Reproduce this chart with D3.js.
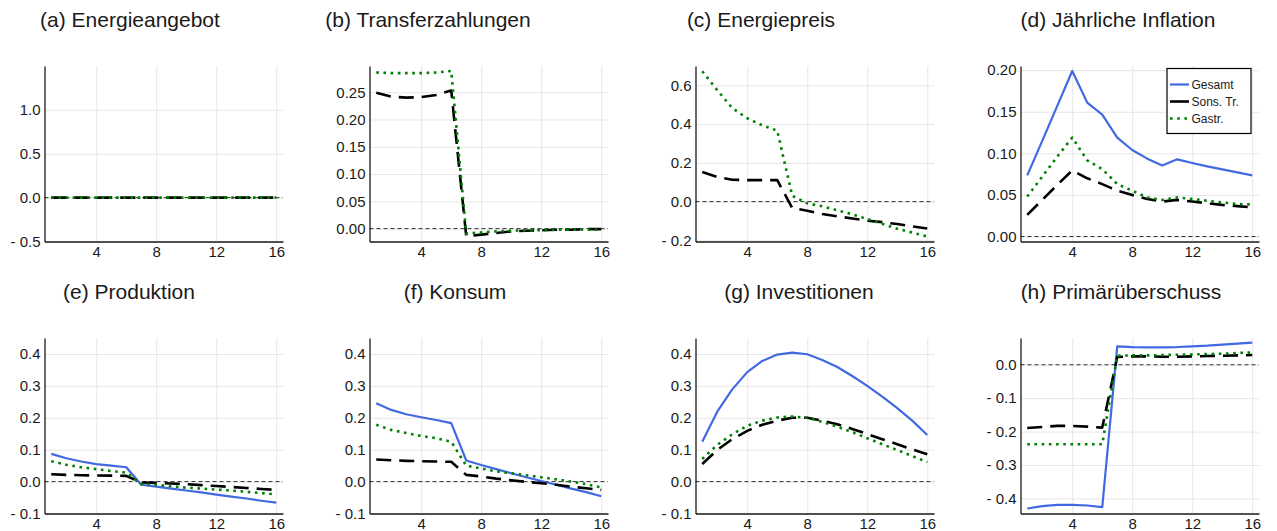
<!DOCTYPE html>
<html>
<head>
<meta charset="utf-8">
<script src="https://cdn.jsdelivr.net/npm/d3@7/dist/d3.min.js"></script>
<style>
  html, body { margin: 0; padding: 0; background: #fff; }
  svg { display: block; }
  text { font-family: "Liberation Sans", Arial, Helvetica, sans-serif; fill: #1a1a1a; }
</style>
</head>
<body>
<svg id="chart" width="1277" height="531"></svg>
<script>
// ---------------- DATA ----------------
const periods = [1,2,3,4,5,6,7,8,9,10,11,12,13,14,15,16];
const seriesNames = ["Gesamt", "Sons. Tr.", "Gastr."];
const panelTitles = ["(a) Energieangebot", "(b) Transferzahlungen", "(c) Energiepreis", "(d) Jährliche Inflation",
                     "(e) Produktion", "(f) Konsum", "(g) Investitionen", "(h) Primärüberschuss"];
const xTicks = [4, 8, 12, 16];

// (a) Energieangebot
const energieangebotSonsTr = [0,0,0,0,0,0,0,0,0,0,0,0,0,0,0,0];
const energieangebotGastr  = [0,0,0,0,0,0,0,0,0,0,0,0,0,0,0,0];
// (b) Transferzahlungen
const transferSonsTr = [0.249,0.242,0.240,0.241,0.245,0.253,-0.014,-0.011,-0.008,-0.005,-0.004,-0.003,-0.002,-0.002,-0.001,-0.001];
const transferGastr  = [0.286,0.285,0.285,0.285,0.286,0.289,-0.009,-0.007,-0.005,-0.004,-0.003,-0.003,-0.002,-0.002,-0.002,-0.002];
// (c) Energiepreis
const energiepreisSonsTr = [0.153,0.127,0.113,0.111,0.111,0.111,-0.033,-0.047,-0.064,-0.076,-0.087,-0.099,-0.106,-0.116,-0.128,-0.139];
const energiepreisGastr  = [0.673,0.575,0.483,0.430,0.394,0.366,0.030,-0.009,-0.024,-0.045,-0.065,-0.090,-0.115,-0.140,-0.160,-0.180];
// (d) Jährliche Inflation
const inflationGesamt = [0.0735,0.115,0.157,0.199,0.161,0.1466,0.119,0.104,0.0936,0.0855,0.0928,0.0884,0.0843,0.0807,0.0771,0.0735];
const inflationSonsTr = [0.026,0.044,0.062,0.0795,0.070,0.063,0.055,0.050,0.045,0.042,0.044,0.042,0.040,0.038,0.0365,0.035];
const inflationGastr  = [0.048,0.072,0.096,0.119,0.0916,0.081,0.063,0.055,0.047,0.044,0.047,0.045,0.043,0.041,0.039,0.0385];
// (e) Produktion
const produktionGesamt = [0.0867,0.073,0.063,0.055,0.050,0.045,-0.010,-0.016,-0.022,-0.028,-0.034,-0.041,-0.047,-0.053,-0.060,-0.066];
const produktionSonsTr = [0.023,0.021,0.020,0.019,0.0188,0.018,-0.003,-0.004,-0.006,-0.008,-0.011,-0.014,-0.017,-0.020,-0.023,-0.026];
const produktionGastr  = [0.064,0.053,0.045,0.039,0.033,0.028,-0.008,-0.010,-0.015,-0.019,-0.022,-0.025,-0.028,-0.032,-0.036,-0.040];
// (f) Konsum
const konsumGesamt = [0.2456,0.2247,0.211,0.2017,0.193,0.183,0.066,0.052,0.039,0.026,0.0136,0.002,-0.010,-0.022,-0.033,-0.046];
const konsumSonsTr = [0.069,0.067,0.065,0.064,0.063,0.062,0.021,0.016,0.0094,0.004,-0.001,-0.005,-0.010,-0.016,-0.021,-0.026];
const konsumGastr  = [0.178,0.162,0.152,0.143,0.136,0.125,0.050,0.041,0.032,0.026,0.020,0.0136,0.007,0.0,-0.008,-0.018];
// (g) Investitionen
const investGesamt = [0.125,0.219,0.289,0.343,0.378,0.398,0.404,0.399,0.381,0.359,0.331,0.300,0.266,0.230,0.191,0.146];
const investSonsTr = [0.055,0.099,0.133,0.159,0.178,0.191,0.200,0.200,0.191,0.180,0.165,0.149,0.133,0.117,0.101,0.086];
const investGastr  = [0.071,0.115,0.148,0.175,0.191,0.201,0.204,0.200,0.187,0.172,0.155,0.136,0.117,0.099,0.080,0.061];
// (h) Primärüberschuss
const primGesamt = [-0.430,-0.423,-0.419,-0.419,-0.421,-0.426,0.0547,0.0527,0.052,0.052,0.053,0.055,0.057,0.060,0.063,0.066];
const primSonsTr = [-0.189,-0.186,-0.183,-0.183,-0.185,-0.188,0.023,0.025,0.025,0.024,0.024,0.025,0.026,0.027,0.028,0.029];
const primGastr  = [-0.238,-0.238,-0.238,-0.238,-0.238,-0.238,0.027,0.028,0.028,0.029,0.030,0.031,0.032,0.033,0.035,0.037];

// y tick values per panel
const yTicksA = [-0.5, 0.0, 0.5, 1.0];
const yTicksB = [0.00, 0.05, 0.10, 0.15, 0.20, 0.25];
const yTicksC = [-0.2, 0.0, 0.2, 0.4, 0.6];
const yTicksD = [0.00, 0.05, 0.10, 0.15, 0.20];
const yTicksEFG = [-0.1, 0.0, 0.1, 0.2, 0.3, 0.4];
const yTicksH = [-0.4, -0.3, -0.2, -0.1, 0.0];

// ---------------- PANELS ----------------
const panels = [
  {title: panelTitles[0], col:0, row:0, series:[null, energieangebotSonsTr, energieangebotGastr], yDom:[-0.5,1.5], ticks:yTicksA, dec:1},
  {title: panelTitles[1], col:1, row:0, series:[null, transferSonsTr, transferGastr], yDom:[-0.0236,0.298], ticks:yTicksB, dec:2},
  {title: panelTitles[2], col:2, row:0, series:[null, energiepreisSonsTr, energiepreisGastr], yDom:[-0.206,0.70], ticks:yTicksC, dec:1},
  {title: panelTitles[3], col:3, row:0, series:[inflationGesamt, inflationSonsTr, inflationGastr], yDom:[-0.006,0.205], ticks:yTicksD, dec:2, legend:true},
  {title: panelTitles[4], col:0, row:1, series:[produktionGesamt, produktionSonsTr, produktionGastr], yDom:[-0.1,0.45], ticks:yTicksEFG, dec:1},
  {title: panelTitles[5], col:1, row:1, series:[konsumGesamt, konsumSonsTr, konsumGastr], yDom:[-0.1,0.45], ticks:yTicksEFG, dec:1},
  {title: panelTitles[6], col:2, row:1, series:[investGesamt, investSonsTr, investGastr], yDom:[-0.1,0.45], ticks:yTicksEFG, dec:1},
  {title: panelTitles[7], col:3, row:1, series:[primGesamt, primSonsTr, primGastr], yDom:[-0.445,0.08], ticks:yTicksH, dec:1}
];

const colLeft = [44.5, 369.5, 695.5, 1020.5];
const plotW = 238.5;
const rowTop = [66, 338];
const plotH = 175.5;
const titleCenters = [[130, 428, 761, 1118], [129, 455, 799, 1121]];
const titleBase = [27, 299];

const styles = [
  {color:"#4169E1", width:2.2, dash:null},
  {color:"#000000", width:2.6, dash:"15,8"},
  {color:"#008000", width:2.6, dash:"2.6,4.6"}
];

const svg = d3.select("#chart");

function fmt(v, dec) {
  const r = Math.round(v * 1e6) / 1e6;
  if (r < 0) return "- " + Math.abs(r).toFixed(dec);
  return Math.abs(r).toFixed(dec);
}

panels.forEach(p => {
  const L = colLeft[p.col], T = rowTop[p.row];
  const x = d3.scaleLinear().domain([0.55, 16.45]).range([L, L + plotW]);
  const y = d3.scaleLinear().domain(p.yDom).range([T + plotH, T]);
  const g = svg.append("g");

  // grid
  const gx = g.append("g").attr("transform", `translate(0,${T + plotH})`)
    .call(d3.axisBottom(x).tickValues(xTicks).tickSize(-plotH).tickFormat(""));
  const gy = g.append("g").attr("transform", `translate(${L},0)`)
    .call(d3.axisLeft(y).tickValues(p.ticks).tickSize(-plotW).tickFormat(""));
  [gx, gy].forEach(a => {
    a.select(".domain").remove();
    a.selectAll("line").attr("stroke", "#e6e6e6").attr("stroke-width", 1);
  });

  // zero reference line
  g.append("line")
    .attr("x1", L).attr("x2", L + plotW)
    .attr("y1", y(0)).attr("y2", y(0))
    .attr("stroke", "#333").attr("stroke-width", 1).attr("stroke-dasharray", "4,3");

  // series
  const line = d3.line().x((d, i) => x(periods[i])).y(d => y(d));
  p.series.forEach((s, k) => {
    if (!s) return;
    const st = styles[k];
    g.append("path").datum(s)
      .attr("d", line)
      .attr("fill", "none")
      .attr("stroke", st.color)
      .attr("stroke-width", st.width)
      .attr("stroke-linejoin", "round")
      .attr("stroke-dasharray", st.dash);
  });

  // axes (labels)
  const ax = g.append("g").attr("transform", `translate(0,${T + plotH})`)
    .call(d3.axisBottom(x).tickValues(xTicks).tickSize(0).tickPadding(5).tickFormat(d3.format("d")));
  const ay = g.append("g").attr("transform", `translate(${L},0)`)
    .call(d3.axisLeft(y).tickValues(p.ticks).tickSize(0).tickPadding(4).tickFormat(d => fmt(d, p.dec)));
  [ax, ay].forEach(a => {
    a.select(".domain").attr("stroke", "#1a1a1a").attr("stroke-width", 1.3);
    a.selectAll("text").style("font-family", "'Liberation Sans', Arial, sans-serif")
      .style("font-size", "15px").attr("fill", "#1a1a1a");
  });

  // title
  svg.append("text")
    .attr("x", titleCenters[p.row][p.col]).attr("y", titleBase[p.row])
    .attr("text-anchor", "middle")
    .style("font-size", "21px")
    .text(p.title);

  // legend
  if (p.legend) {
    const lx = 1167, ly = 68.5, lw = 84, lh = 65;
    const lg = svg.append("g");
    lg.append("rect").attr("x", lx).attr("y", ly).attr("width", lw).attr("height", lh)
      .attr("fill", "#fff").attr("stroke", "#000").attr("stroke-width", 1.2);
    seriesNames.forEach((name, k) => {
      const cy = ly + 16 + k * 17;
      const st = styles[k];
      lg.append("line").attr("x1", lx + 3).attr("x2", lx + 22).attr("y1", cy).attr("y2", cy)
        .attr("stroke", st.color).attr("stroke-width", st.width)
        .attr("stroke-dasharray", k === 1 ? "19,0" : st.dash);
      lg.append("text").attr("x", lx + 24.5).attr("y", cy).attr("dy", "0.35em")
        .style("font-size", "12px").text(name);
    });
  }
});
</script>
</body>
</html>
